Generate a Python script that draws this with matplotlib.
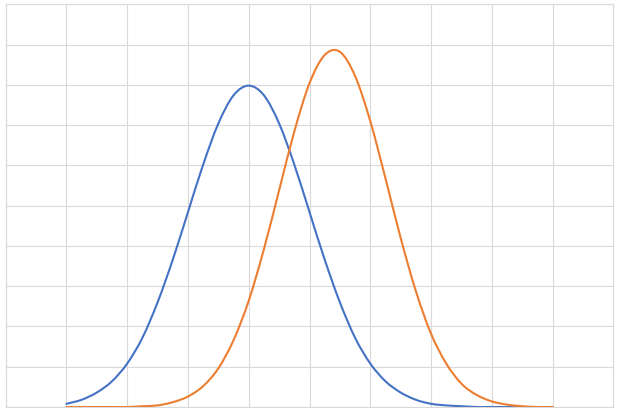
import numpy as np
import matplotlib
matplotlib.use("Agg")
import matplotlib.pyplot as plt
from matplotlib.path import Path
from matplotlib.patches import PathPatch

# x positions (step 0.25) and the values
x_vals = [1.0 + 0.25 * i for i in range(33)]

series_a = [0.004, 0.009, 0.018, 0.032, 0.054, 0.086, 0.130, 0.183, 0.242,
            0.301, 0.352, 0.387, 0.399, 0.387, 0.352, 0.301, 0.242, 0.183,
            0.130, 0.086, 0.054, 0.032, 0.018, 0.009, 0.004, 0.002, 0.001,
            0.000, 0.000, 0.000, 0.000, 0.000, 0.000]

series_b = [0.000, 0.000, 0.000, 0.000, 0.000, 0.001, 0.002, 0.006, 0.013,
            0.026, 0.048, 0.083, 0.132, 0.196, 0.269, 0.342, 0.402, 0.437,
            0.441, 0.411, 0.355, 0.284, 0.210, 0.144, 0.091, 0.054, 0.029,
            0.015, 0.007, 0.003, 0.001, 0.000, 0.000]

colors = ["#4472C4", "#ED7D31"]


def smooth_path(xs, ys):
    # Catmull-Rom segments turned into cubic Bezier pieces (like Excel's smoothed line)
    pts = np.column_stack([xs, ys]).astype(float)
    verts = [pts[0]]
    codes = [Path.MOVETO]
    n = len(pts)
    for i in range(n - 1):
        p0 = pts[i - 1] if i > 0 else pts[i]
        p1 = pts[i]
        p2 = pts[i + 1]
        p3 = pts[i + 2] if i + 2 < n else pts[i + 1]
        c1 = p1 + (p2 - p0) / 6.0
        c2 = p2 - (p3 - p1) / 6.0
        verts += [c1, c2, p2]
        codes += [Path.CURVE4] * 3
    return Path(verts, codes)


fig = plt.figure(figsize=(6.19, 4.13), dpi=100)
ax = fig.add_axes([0.0092, 0.0145, 0.9816, 0.9751])

ax.set_xlim(0, 10)
ax.set_ylim(0, 0.5)
ax.set_xticks(np.arange(0, 11, 1))
ax.set_yticks(np.arange(0, 0.55, 0.05))
ax.tick_params(length=0, labelbottom=False, labelleft=False)
ax.grid(True, color="#d9d9d9", linewidth=0.8)
ax.set_axisbelow(True)
for s in ax.spines.values():
    s.set_color("#d9d9d9")
    s.set_linewidth(0.8)

for ys, c in zip([series_a, series_b], colors):
    patch = PathPatch(smooth_path(x_vals, ys), facecolor="none", edgecolor=c,
                      linewidth=1.5, capstyle="round", joinstyle="round")
    ax.add_patch(patch)

fig.savefig("out.png", dpi=100)
